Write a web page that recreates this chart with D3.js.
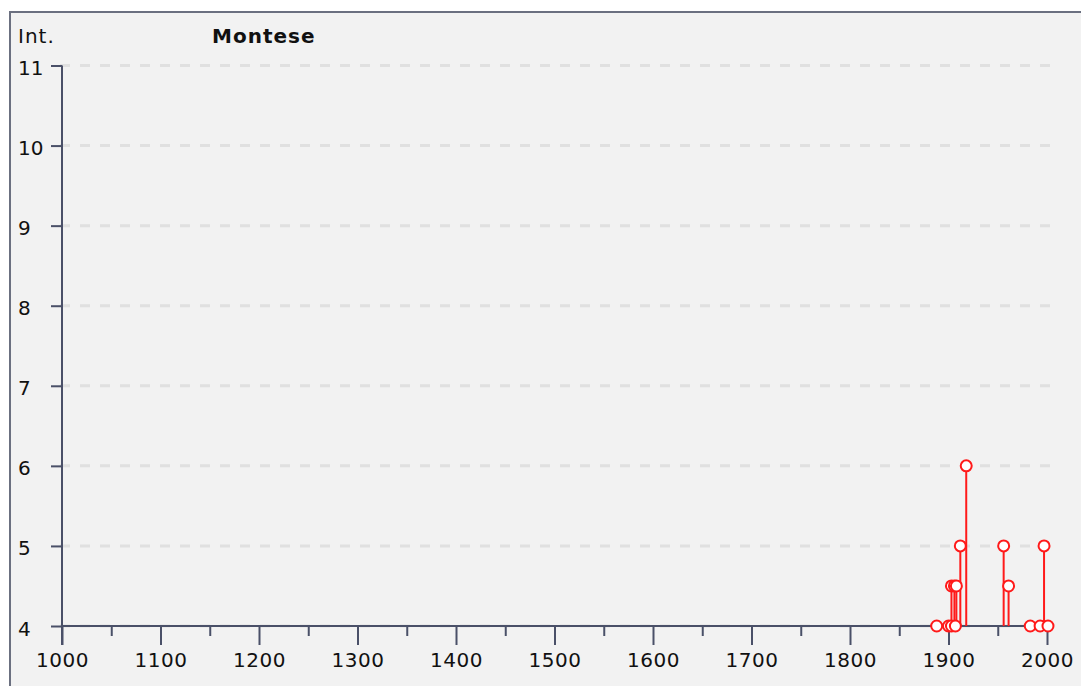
<!DOCTYPE html>
<html>
<head>
<meta charset="utf-8">
<script src="https://cdn.jsdelivr.net/npm/d3@7"></script>
<style>
  body { margin: 0; background: #ffffff; }
  svg text { font-family: "DejaVu Sans", Verdana, sans-serif; fill: #111; }
</style>
</head>
<body>
<svg id="chart" width="1081" height="686"></svg>
<script>
// ---- data ----
const years = [1888, 1900, 1903, 1903, 1906, 1907, 1908, 1912, 1918, 1956, 1961, 1983, 1993, 1997, 2001];
const intensities = [4, 4, 4, 4.5, 4.5, 4, 4.5, 5, 6, 5, 4.5, 4, 4, 5, 4];
const yTicks = [4, 5, 6, 7, 8, 9, 10, 11];
const xMajorTicks = [1000, 1100, 1200, 1300, 1400, 1500, 1600, 1700, 1800, 1900, 2000];
const xMinorTicks = [1050, 1150, 1250, 1350, 1450, 1550, 1650, 1750, 1850, 1950];
const title = "Montese";
const yLabel = "Int.";

const quakes = years.map((y, i) => ({ year: y, value: intensities[i] }));

const svg = d3.select("#chart");

// panel frame
svg.append("rect")
  .attr("x", 10).attr("y", 12)
  .attr("width", 1090).attr("height", 700)
  .attr("fill", "#f2f2f2")
  .attr("stroke", "#6b7080")
  .attr("stroke-width", 2);

const x = d3.scaleLinear().domain([1000, 2000]).range([62, 1047]);
const y = d3.scaleLinear().domain([4, 11]).range([626, 65.5]);

// dashed grid
svg.append("g")
  .selectAll("line")
  .data(yTicks)
  .join("line")
  .attr("x1", 60).attr("x2", x(2005))
  .attr("y1", d => y(d)).attr("y2", d => y(d))
  .attr("stroke", "#e0e0e0")
  .attr("stroke-width", 3)
  .attr("stroke-dasharray", "10,10");

// y axis
const yAxis = svg.append("g")
  .attr("transform", "translate(62,0)")
  .call(d3.axisLeft(y).tickValues(yTicks).tickSize(11).tickPadding(0).tickFormat(d3.format("d")));
yAxis.select(".domain").attr("d", "M0,65.5V645");
yAxis.selectAll("text")
  .attr("text-anchor", "start")
  .attr("x", -44)
  .attr("dy", "0.45em")
  .style("font-size", "20px");

// x axis, minor then major
const xMinor = svg.append("g")
  .attr("transform", "translate(0,626)")
  .call(d3.axisBottom(x).tickValues(xMinorTicks).tickSize(10).tickFormat(""));
xMinor.select(".domain").remove();

const xAxis = svg.append("g")
  .attr("transform", "translate(0,626)")
  .call(d3.axisBottom(x).tickValues(xMajorTicks).tickSize(19).tickPadding(8).tickFormat(d3.format("d")));
xAxis.select(".domain").attr("d", "M62,0H" + x(2005));
xAxis.selectAll("text").style("font-size", "20px").style("letter-spacing", "0.5px");

svg.selectAll(".domain, .tick line")
  .attr("stroke", "#4a5068")
  .attr("stroke-width", 2);

// stems
svg.append("g")
  .selectAll("line")
  .data(quakes)
  .join("line")
  .attr("x1", d => x(d.year)).attr("x2", d => x(d.year))
  .attr("y1", y(4)).attr("y2", d => y(d.value))
  .attr("stroke", "#ff1a1a")
  .attr("stroke-width", 2);

// markers
svg.append("g")
  .selectAll("circle")
  .data(quakes)
  .join("circle")
  .attr("cx", d => x(d.year))
  .attr("cy", d => y(d.value))
  .attr("r", 5.5)
  .attr("fill", "#ffffff")
  .attr("stroke", "#ff1a1a")
  .attr("stroke-width", 2);

// labels
svg.append("text")
  .attr("x", 18).attr("y", 43)
  .style("font-size", "20px")
  .style("letter-spacing", "1px")
  .text(yLabel);

svg.append("text")
  .attr("x", 212).attr("y", 43)
  .style("font-size", "20px")
  .style("font-weight", "bold")
  .style("letter-spacing", "1px")
  .text(title);
</script>
</body>
</html>
